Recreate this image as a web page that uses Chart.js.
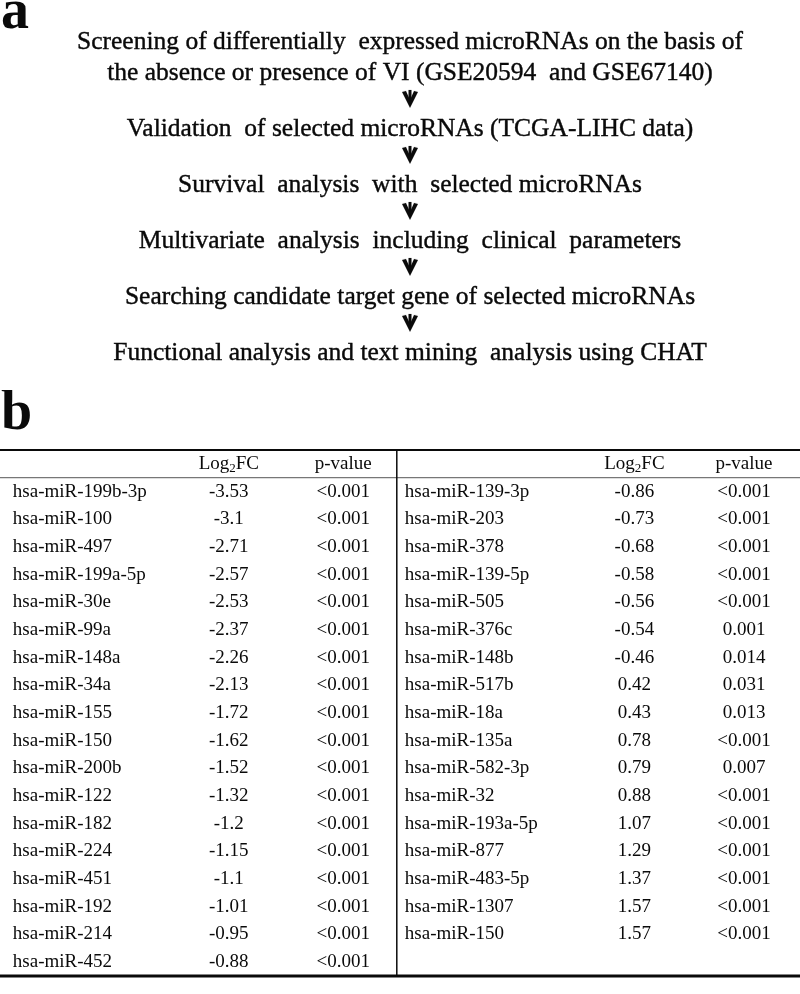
<!DOCTYPE html>
<html>
<head>
<meta charset="utf-8">
<script src="https://cdn.jsdelivr.net/npm/chart.js@4.4.0/dist/chart.umd.min.js"></script>
<style>
  body { margin: 0; background: #fff; }
  #wrap { position: relative; width: 800px; height: 994px; }
  #wrap canvas { position: absolute; left: 0; }
</style>
</head>
<body>
<div id="wrap">
  <canvas id="flow" width="800" height="390" style="top:0"></canvas>
  <canvas id="table" width="800" height="604" style="top:390px"></canvas>
</div>
<script>
// --- DATA ---
const flowSteps = [
    ['Screening of differentially  expressed microRNAs on the basis of',
     'the absence or presence of VI (GSE20594  and GSE67140)'],
    ['Validation  of selected microRNAs (TCGA-LIHC data)'],
    ['Survival  analysis  with  selected microRNAs'],
    ['Multivariate  analysis  including  clinical  parameters'],
    ['Searching candidate target gene of selected microRNAs'],
    ['Functional analysis and text mining  analysis using CHAT']
];

const leftMirnas = ['hsa-miR-199b-3p', 'hsa-miR-100', 'hsa-miR-497', 'hsa-miR-199a-5p', 'hsa-miR-30e',
    'hsa-miR-99a', 'hsa-miR-148a', 'hsa-miR-34a', 'hsa-miR-155', 'hsa-miR-150', 'hsa-miR-200b',
    'hsa-miR-122', 'hsa-miR-182', 'hsa-miR-224', 'hsa-miR-451', 'hsa-miR-192', 'hsa-miR-214', 'hsa-miR-452'];
const leftLog2fc = [-3.53, -3.1, -2.71, -2.57, -2.53, -2.37, -2.26, -2.13, -1.72, -1.62, -1.52,
    -1.32, -1.2, -1.15, -1.1, -1.01, -0.95, -0.88];
const leftPvalues = ['<0.001', '<0.001', '<0.001', '<0.001', '<0.001', '<0.001', '<0.001', '<0.001', '<0.001',
    '<0.001', '<0.001', '<0.001', '<0.001', '<0.001', '<0.001', '<0.001', '<0.001', '<0.001'];

const rightMirnas = ['hsa-miR-139-3p', 'hsa-miR-203', 'hsa-miR-378', 'hsa-miR-139-5p', 'hsa-miR-505',
    'hsa-miR-376c', 'hsa-miR-148b', 'hsa-miR-517b', 'hsa-miR-18a', 'hsa-miR-135a', 'hsa-miR-582-3p',
    'hsa-miR-32', 'hsa-miR-193a-5p', 'hsa-miR-877', 'hsa-miR-483-5p', 'hsa-miR-1307', 'hsa-miR-150'];
const rightLog2fc = [-0.86, -0.73, -0.68, -0.58, -0.56, -0.54, -0.46, 0.42, 0.43, 0.78, 0.79,
    0.88, 1.07, 1.29, 1.37, 1.57, 1.57];
const rightPvalues = ['<0.001', '<0.001', '<0.001', '<0.001', '<0.001', '0.001', '0.014', '0.031', '0.013',
    '<0.001', '0.007', '<0.001', '<0.001', '<0.001', '<0.001', '<0.001', '<0.001'];

const TEXT = '#0a0a0a';
const SERIF = '"Liberation Serif", "Times New Roman", serif';

// --- ARROW (used as point style) ---
function makeArrow() {
    const c = document.createElement('canvas');
    c.width = 18; c.height = 22;
    const g = c.getContext('2d');
    g.fillStyle = TEXT;
    // stem
    g.fillRect(7.5, 1, 3, 13);
    // thick chevron head
    g.beginPath();
    g.moveTo(1, 3); g.lineTo(5, 2); g.lineTo(9, 11);
    g.lineTo(13, 2); g.lineTo(17, 3); g.lineTo(9, 19);
    g.closePath(); g.fill();
    return c;
}

// --- FLOW CHART (panel a) ---
const flowTextPlugin = {
    id: 'flowText',
    afterDatasetsDraw(chart) {
        const { ctx, scales: { x, y } } = chart;
        ctx.save();
        ctx.fillStyle = TEXT;
        ctx.strokeStyle = TEXT;
        ctx.lineWidth = 0.4;
        ctx.font = '25.5px ' + SERIF;
        ctx.textAlign = 'center';
        ctx.textBaseline = 'middle';
        flowSteps.forEach((lines, i) => {
            const yb = y.getPixelForValue(i);
            lines.forEach((line, j) => {
                const ly = yb - (lines.length - 1 - j) * 31;
                ctx.fillText(line, x.getPixelForValue(0), ly);
                ctx.strokeText(line, x.getPixelForValue(0), ly);
            });
        });
        ctx.font = 'bold 56px ' + SERIF;
        ctx.textAlign = 'left';
        ctx.textBaseline = 'alphabetic';
        ctx.fillText('a', 1, 28);
        ctx.restore();
    }
};

new Chart(document.getElementById('flow'), {
    type: 'scatter',
    data: {
        datasets: [{
            data: flowSteps.slice(1).map((_, i) => ({ x: 0, y: i + 0.48 })),
            pointStyle: makeArrow(),
            pointRadius: 3
        }]
    },
    options: {
        responsive: false,
        animation: false,
        layout: { autoPadding: false, padding: { left: 20, right: 0, top: 0, bottom: 0 } },
        plugins: { legend: { display: false }, tooltip: { enabled: false } },
        scales: {
            x: { type: 'linear', min: -1, max: 1, display: false },
            y: { type: 'linear', reverse: true, min: -1.3036, max: 5.66, display: false }
        }
    },
    plugins: [flowTextPlugin]
});

// --- TABLE (panel b) ---
function drawLog2Header(ctx, cx, cy) {
    const big = '19px ' + SERIF, small = '13px ' + SERIF;
    ctx.font = big; const w1 = ctx.measureText('Log').width; const w3 = ctx.measureText('FC').width;
    ctx.font = small; const w2 = ctx.measureText('2').width;
    let xx = cx - (w1 + w2 + w3) / 2;
    ctx.textAlign = 'left';
    ctx.font = big; ctx.fillText('Log', xx, cy); xx += w1;
    ctx.font = small; ctx.fillText('2', xx, cy + 5); xx += w2;
    ctx.font = big; ctx.fillText('FC', xx, cy);
}

const tablePlugin = {
    id: 'cells',
    afterDatasetsDraw(chart, args, opts) {
        const { ctx, chartArea: a, scales: { x, y } } = chart;
        const c = opts.columns;
        ctx.save();
        ctx.fillStyle = TEXT;
        ctx.strokeStyle = TEXT;

        // rules
        ctx.lineWidth = 2;
        ctx.beginPath(); ctx.moveTo(a.left, a.top); ctx.lineTo(a.right, a.top); ctx.stroke();
        ctx.lineWidth = 3;
        ctx.beginPath(); ctx.moveTo(a.left, a.bottom); ctx.lineTo(a.right, a.bottom); ctx.stroke();
        const hy = (y.getPixelForValue(0) + y.getPixelForValue(1)) / 2;
        ctx.lineWidth = 1.2;
        ctx.strokeStyle = '#777';
        ctx.beginPath(); ctx.moveTo(a.left, hy); ctx.lineTo(a.right, hy); ctx.stroke();
        ctx.strokeStyle = TEXT;
        ctx.lineWidth = 1.5;
        ctx.beginPath(); ctx.moveTo(x.getPixelForValue(c.divider), a.top); ctx.lineTo(x.getPixelForValue(c.divider), a.bottom); ctx.stroke();

        ctx.textBaseline = 'middle';
        const y0 = y.getPixelForValue(0);
        // headers
        [c.left, c.right].forEach(side => {
            drawLog2Header(ctx, x.getPixelForValue(side.fc), y0);
            ctx.font = '19px ' + SERIF;
            ctx.textAlign = 'center';
            ctx.fillText('p-value', x.getPixelForValue(side.p), y0);
        });

        // cells
        const sides = [
            [c.left, leftMirnas, leftLog2fc, leftPvalues],
            [c.right, rightMirnas, rightLog2fc, rightPvalues]
        ];
        ctx.font = '19px ' + SERIF;
        sides.forEach(([side, names, fcs, ps]) => {
            names.forEach((name, i) => {
                const yy = y.getPixelForValue(i + 1);
                ctx.textAlign = 'left';
                ctx.fillText(name, x.getPixelForValue(side.name), yy);
                ctx.textAlign = 'center';
                ctx.fillText(String(fcs[i]), x.getPixelForValue(side.fc), yy);
                ctx.fillText(ps[i], x.getPixelForValue(side.p), yy);
            });
        });

        ctx.font = 'bold 56px ' + SERIF;
        ctx.textAlign = 'left';
        ctx.textBaseline = 'alphabetic';
        ctx.fillText('b', 1, a.top - 21);
        ctx.restore();
    }
};

new Chart(document.getElementById('table'), {
    type: 'scatter',
    data: {
        labels: ['header'].concat(leftMirnas),
        datasets: []
    },
    options: {
        responsive: false,
        animation: false,
        layout: { autoPadding: false, padding: { left: 0, right: 0, top: 60, bottom: 18 } },
        plugins: {
            legend: { display: false },
            tooltip: { enabled: false },
            cells: {
                columns: {
                    left: { name: 1.6, fc: 28.6, p: 42.9 },
                    divider: 49.6,
                    right: { name: 50.6, fc: 79.3, p: 93.0 }
                }
            }
        },
        scales: {
            x: { type: 'linear', min: 0, max: 100, display: false },
            y: { type: 'category', offset: true, display: false, grid: { display: false } }
        }
    },
    plugins: [tablePlugin]
});
</script>
</body>
</html>
